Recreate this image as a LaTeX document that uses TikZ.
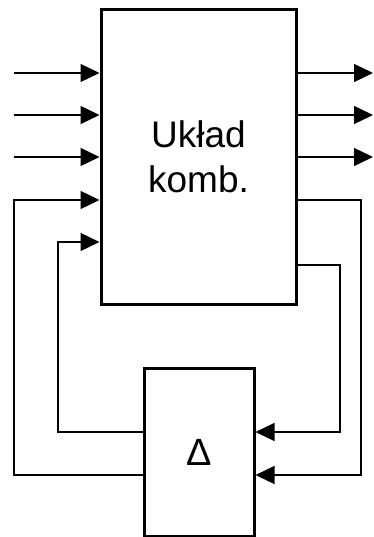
\documentclass[tikz,border=0pt]{standalone}
\usepackage{fontspec}
\setmainfont{Liberation Sans}
\usepackage{tikz}
\usetikzlibrary{arrows.meta, positioning}

\begin{document}
\begin{tikzpicture}[
    x=1pt, y=-1pt,
    block/.style={
        draw=black,
        fill=white,
        line width=3pt,
        inner sep=0pt,
        align=center
    },
    wire/.style={
        draw=black,
        line width=1.3pt
    },
    arr/.style={
        wire,
        -{Triangle[length=19pt, width=18pt]}
    }
]
    \useasboundingbox (0,0) rectangle (374,537);

    % Nodes Placement

    % Combinational block
    \node[block, minimum width=195pt, minimum height=294pt,
          font=\fontsize{37}{45}\selectfont] (comb) at (198.5, 157) {Układ\\komb.};

    % Delay block
    \node[block, minimum width=110pt, minimum height=168pt,
          font=\fontsize{38}{40}\selectfont] (delay) at (199, 452) {Δ};

    % Free ends and bends
    \coordinate (in1) at (14, 73);
    \coordinate (in2) at (14, 115);
    \coordinate (in3) at (14, 157);
    \coordinate (out1) at (373, 73);
    \coordinate (out2) at (373, 115);
    \coordinate (out3) at (373, 157);
    \coordinate (fbouter) at (361, 200);
    \coordinate (fbinner) at (340, 265);
    \coordinate (backinner) at (58, 242);
    \coordinate (backouter) at (14, 200);
    \coordinate (lvlinner) at (0, 432);
    \coordinate (lvlouter) at (0, 475);

    % Connections

    % Inputs -> Układ komb.
    \draw[arr] (in1) -- (comb.west |- in1);
    \draw[arr] (in2) -- (comb.west |- in2);
    \draw[arr] (in3) -- (comb.west |- in3);

    % Układ komb. -> Outputs
    \draw[arr] (comb.east |- out1) -- (out1);
    \draw[arr] (comb.east |- out2) -- (out2);
    \draw[arr] (comb.east |- out3) -- (out3);

    % Układ komb. -> Delay
    \draw[arr] (comb.east |- fbinner) -- (fbinner) |- (delay.east |- lvlinner);
    \draw[arr] (comb.east |- fbouter) -- (fbouter) |- (delay.east |- lvlouter);

    % Delay -> Układ komb.
    \draw[arr] (delay.west |- lvlinner) -| (backinner) -- (comb.west |- backinner);
    \draw[arr] (delay.west |- lvlouter) -| (backouter) -- (comb.west |- backouter);

\end{tikzpicture}
\end{document}
